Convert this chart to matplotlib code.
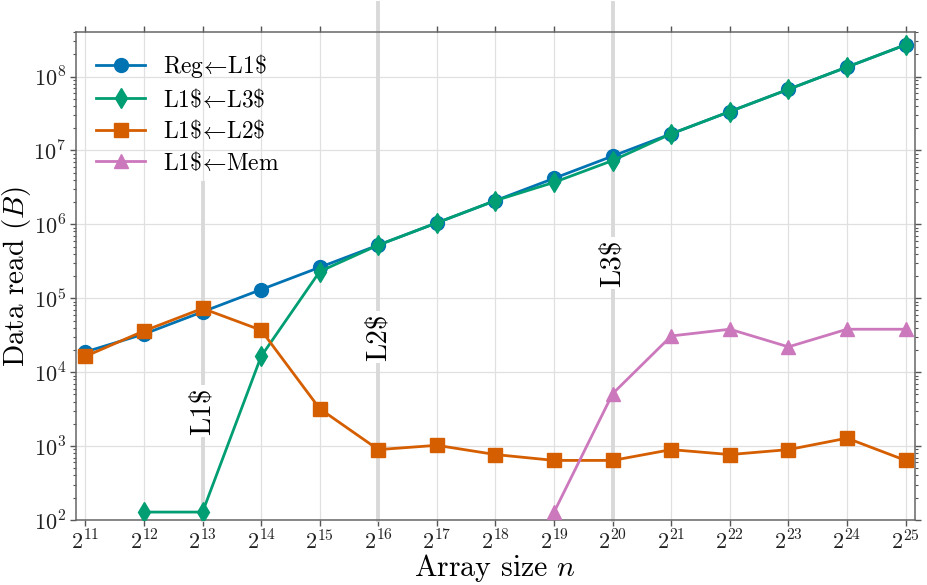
import matplotlib
matplotlib.use("Agg")
import matplotlib.pyplot as plt
from matplotlib.ticker import LogLocator, NullLocator, NullFormatter

plt.rcParams.update({
    "font.family": "serif",
    "font.serif": ["cmr10", "DejaVu Serif"],
    "mathtext.fontset": "cm",
    "axes.formatter.use_mathtext": True,
    "axes.unicode_minus": False,
})

# ---------------- data ----------------
sizes = [2**11, 2**12, 2**13, 2**14, 2**15, 2**16, 2**17, 2**18,
         2**19, 2**20, 2**21, 2**22, 2**23, 2**24, 2**25]
xtick_labels = [r"$2^{11}$", r"$2^{12}$", r"$2^{13}$", r"$2^{14}$", r"$2^{15}$",
                r"$2^{16}$", r"$2^{17}$", r"$2^{18}$", r"$2^{19}$", r"$2^{20}$",
                r"$2^{21}$", r"$2^{22}$", r"$2^{23}$", r"$2^{24}$", r"$2^{25}$"]
ytick_values = [1e2, 1e3, 1e4, 1e5, 1e6, 1e7, 1e8]
ytick_labels = [r"$10^{2}$", r"$10^{3}$", r"$10^{4}$", r"$10^{5}$",
                r"$10^{6}$", r"$10^{7}$", r"$10^{8}$"]

reg_l1 = [18800, 32768, 65536, 131072, 262144, 524288, 1048576, 2097152,
          4194304, 8388608, 16777216, 33554432, 67108864, 134217728, 268435456]
l1_l3_sizes = sizes[1:]
l1_l3 = [128, 128, 16384, 230000, 524288, 1048576, 2097152,
         3700000, 7300000, 16777216, 33554432, 67108864, 134217728, 268435456]
l1_l2 = [16384, 36100, 72800, 37000, 3200, 896, 1024, 768,
         640, 640, 896, 768, 896, 1280, 640]
l1_mem_sizes = sizes[8:]
l1_mem = [128, 5120, 30900, 38100, 22000, 38100, 38100]

series_labels = [r"Reg$\!\leftarrow\!$L1\$", r"L1\$$\!\leftarrow\!$L3\$",
                 r"L1\$$\!\leftarrow\!$L2\$", r"L1\$$\!\leftarrow\!$Mem"]

cache_sizes = [2**13, 2**16, 2**20]
cache_labels = [r"L1\$", r"L2\$", r"L3\$"]
cache_label_y = [3e3, 3e4, 3e5]
cache_line_top = [0.69, 1.06, 1.06]

colors = ["#0173B2", "#029E73", "#D55E00", "#CC78BC"]

# ---------------- figure ----------------
fig = plt.figure(figsize=(9.28, 5.85), dpi=100)
ax = fig.add_axes([76 / 928, 65 / 585, (915 - 76) / 928, (520 - 32) / 585])

ax.set_xscale("log", base=2)
ax.set_yscale("log")
ax.set_xlim(2**10.84, 2**25.16)
ax.set_ylim(1e2, 4e8)

ax.grid(True, which="major", color="#e0e0e0", lw=0.9, zorder=0)
ax.set_axisbelow(True)

for xc, lab, ly, top in zip(cache_sizes, cache_labels, cache_label_y, cache_line_top):
    ax.axvline(xc, ymin=0, ymax=top, color="#d9d9d9", lw=2.8, zorder=1, clip_on=False)
    ax.text(xc, ly, lab, rotation=90, ha="center", va="center", fontsize=21,
            zorder=1.5, bbox=dict(facecolor="white", edgecolor="none", pad=1.5))

lw = 2.0
ms = 10
ax.plot(sizes, reg_l1, marker="o", color=colors[0], lw=lw, ms=ms, label=series_labels[0], zorder=3)
ax.plot(l1_l3_sizes, l1_l3, marker="d", color=colors[1], lw=lw, ms=ms, label=series_labels[1], zorder=3)
ax.plot(sizes, l1_l2, marker="s", color=colors[2], lw=lw, ms=ms, label=series_labels[2], zorder=3)
ax.plot(l1_mem_sizes, l1_mem, marker="^", color=colors[3], lw=lw, ms=ms, label=series_labels[3], zorder=3)

ax.set_xticks(sizes, xtick_labels)
ax.xaxis.set_minor_locator(NullLocator())
ax.set_yticks(ytick_values, ytick_labels)
ax.yaxis.set_minor_locator(LogLocator(base=10, subs=range(2, 10)))
ax.yaxis.set_minor_formatter(NullFormatter())

for sp in ax.spines.values():
    sp.set_color("#666666")
    sp.set_linewidth(1.1)

ax.tick_params(which="both", direction="out", colors="#555555", labelcolor="#222222",
               top=True, right=True)
ax.tick_params(which="major", length=4, width=1, labelsize=16, pad=3)
ax.tick_params(which="minor", length=2.2, width=0.8)

ax.set_xlabel(r"Array size $n$", fontsize=21.5)
ax.xaxis.label.set_va("baseline")
ax.xaxis.set_label_coords(0.5, -(576.5 - 520) / 488)
ax.set_ylabel(r"Data read ($B$)", fontsize=21)
ax.yaxis.set_label_coords(-(76 - 33.5) / 839, 0.5)

leg = ax.legend(loc="upper left", frameon=False, fontsize=17, handlelength=2.08,
                handletextpad=0.76, labelspacing=0.32, borderaxespad=0.45)

fig.savefig("out.png", dpi=100)
